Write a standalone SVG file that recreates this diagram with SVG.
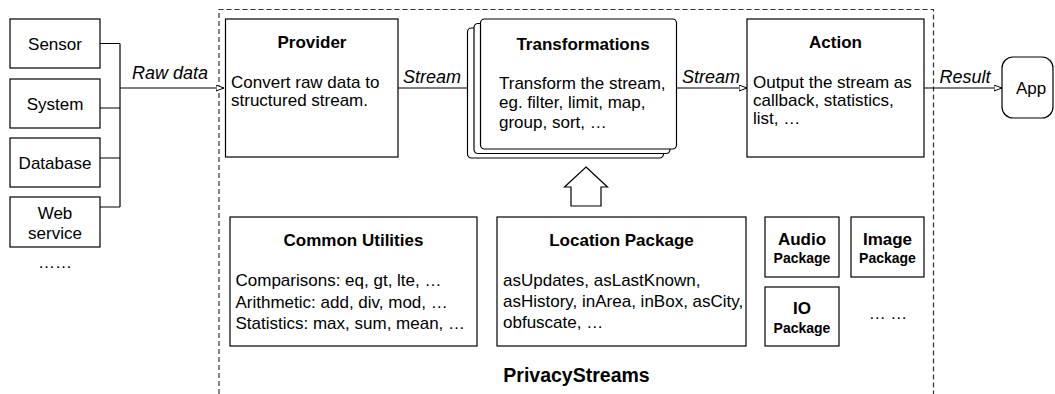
<svg xmlns="http://www.w3.org/2000/svg" width="1055" height="394" viewBox="0 0 1055 394">
<defs>
<style>
.box{fill:#fff;stroke:#000;stroke-width:1.2}
.t{font-family:"Liberation Sans",Arial,Helvetica,sans-serif;font-size:17px;fill:#000}
.c{text-anchor:middle}
.b{font-weight:bold}
.lbl{font-family:"Liberation Sans",Arial,Helvetica,sans-serif;font-size:18px;font-style:italic;fill:#000;text-anchor:middle}
.pk{font-size:14px}
.ln{fill:none;stroke:#000;stroke-width:1.2}
.dash{fill:none;stroke:#333;stroke-width:1.2;stroke-dasharray:5,3}
</style>
<marker id="open" markerUnits="userSpaceOnUse" markerWidth="10" markerHeight="8" refX="8.5" refY="3.5" orient="auto">
<path d="M0.5,0.5 L8.5,3.5 L0.5,6.5 Z" fill="#fff" stroke="#000" stroke-width="1"/>
</marker>
</defs>

<path class="dash" d="M219,394 V9.5 H933.5 V394"/>

<g id="connectors">
<path class="ln" d="M100,43.5 H120 M100,108 H120 M100,158 H120 M100,207 H120 M120,43.5 V207"/>
<path class="ln" d="M120,88 H224" marker-end="url(#open)"/>
<path class="ln" d="M398,88 H480" marker-end="url(#open)"/>
<path class="ln" d="M676.5,88 H747" marker-end="url(#open)"/>
<path class="ln" d="M924,88 H1002" marker-end="url(#open)"/>
<polygon class="box" points="586,167 607.5,187 601,187 601,206 571,206 571,187 564.5,187"/>
<text class="lbl" x="170" y="78.5">Raw data</text>
<text class="lbl" x="432" y="82.5">Stream</text>
<text class="lbl" x="711" y="82.5">Stream</text>
<text class="lbl" x="965" y="82.5">Result</text>
</g>

<g id="sensor">
<rect class="box" x="10" y="19" width="90" height="49"/>
<text class="t c" x="55" y="50">Sensor</text>
</g>
<g id="system">
<rect class="box" x="10" y="79" width="90" height="49"/>
<text class="t c" x="55" y="110">System</text>
</g>
<g id="database">
<rect class="box" x="10" y="138" width="90" height="49"/>
<text class="t c" x="55" y="169">Database</text>
</g>
<g id="webservice">
<rect class="box" x="10" y="197" width="90" height="50"/>
<text class="t c" x="55" y="219">Web</text>
<text class="t c" x="55" y="238.5">service</text>
</g>
<text class="t c" x="55" y="268">……</text>

<g id="provider">
<rect class="box" x="225.5" y="19" width="172.5" height="138"/>
<text class="t c b" x="312" y="48">Provider</text>
<text class="t" x="231" y="88">Convert raw data to</text>
<text class="t" x="231" y="106">structured stream.</text>
</g>

<g id="transformations">
<rect class="box" x="467.5" y="28" width="196" height="130" rx="4"/>
<rect class="box" x="474" y="23.5" width="196" height="130" rx="4"/>
<rect class="box" x="480.5" y="19" width="196" height="130" rx="4"/>
<text class="t c b" x="583" y="49.5">Transformations</text>
<text class="t" x="499" y="88.5">Transform the stream,</text>
<text class="t" x="499" y="108">eg. filter, limit, map,</text>
<text class="t" x="499" y="127.5">group, sort, …</text>
</g>

<g id="action">
<rect class="box" x="747" y="19" width="177" height="138"/>
<text class="t c b" x="835.5" y="48">Action</text>
<text class="t" x="753" y="88">Output the stream as</text>
<text class="t" x="753" y="105.5">callback, statistics,</text>
<text class="t" x="753" y="124">list, …</text>
</g>

<g id="app">
<rect class="box" x="1002" y="57" width="51" height="61" rx="11"/>
<text class="t c" x="1031" y="94">App</text>
</g>

<g id="common">
<rect class="box" x="230" y="217" width="247" height="129"/>
<text class="t c b" x="353.5" y="246">Common Utilities</text>
<text class="t" x="235.5" y="286">Comparisons: eq, gt, lte, …</text>
<text class="t" x="235.5" y="307.5">Arithmetic: add, div, mod, …</text>
<text class="t" x="235.5" y="329">Statistics: max, sum, mean, …</text>
</g>

<g id="location">
<rect class="box" x="497" y="217" width="249" height="129"/>
<text class="t c b" x="621.5" y="246">Location Package</text>
<text class="t" x="503" y="286">asUpdates, asLastKnown,</text>
<text class="t" x="503" y="307">asHistory, inArea, inBox, asCity,</text>
<text class="t" x="503" y="328">obfuscate, …</text>
</g>

<g id="audio">
<rect class="box" x="765" y="217" width="74" height="60"/>
<text class="t c b" x="802" y="245">Audio</text>
<text class="t c b pk" x="802" y="263">Package</text>
</g>
<g id="image">
<rect class="box" x="851" y="217" width="73" height="60"/>
<text class="t c b" x="887.5" y="245">Image</text>
<text class="t c b pk" x="887.5" y="263">Package</text>
</g>
<g id="io">
<rect class="box" x="765" y="287" width="74" height="59"/>
<text class="t c b" x="802" y="314">IO</text>
<text class="t c b pk" x="802" y="333">Package</text>
</g>
<text class="t c" x="888" y="319">… …</text>

<text class="t c b" x="576.5" y="382" style="font-size:19.5px">PrivacyStreams</text>
</svg>
